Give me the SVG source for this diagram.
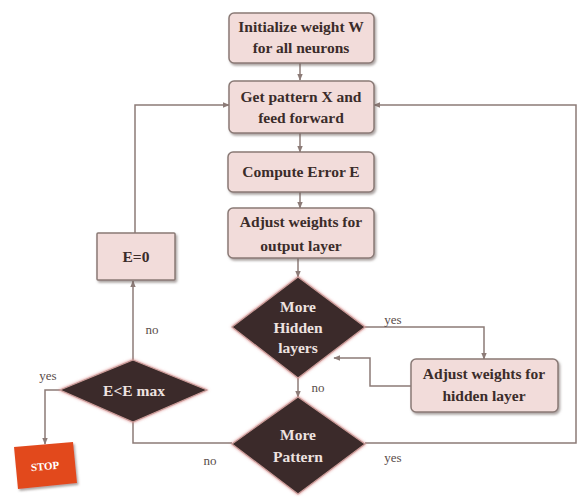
<svg xmlns="http://www.w3.org/2000/svg" width="577" height="497" viewBox="0 0 577 497">
<defs>
<marker id="arr" viewBox="0 0 10 10" refX="9" refY="5" markerWidth="7" markerHeight="7" orient="auto" markerUnits="userSpaceOnUse">
<path d="M0,1 L10,5 L0,9 z" fill="#8c7b77"/>
</marker>
<filter id="sh" x="-10%" y="-10%" width="125%" height="130%">
<feDropShadow dx="1.5" dy="2" stdDeviation="1.2" flood-color="#6b5d5a" flood-opacity="0.55"/>
</filter>
<filter id="glow" x="-10%" y="-10%" width="120%" height="120%">
<feDropShadow dx="0" dy="0" stdDeviation="1.5" flood-color="#d07070" flood-opacity="0.8"/>
</filter>
</defs>
<style>
.box{fill:#f2dcda;stroke:#8a7a76;stroke-width:1.5;filter:url(#sh)}
.dia{fill:#3a2b29;stroke:#c99a98;stroke-width:1.2;filter:url(#glow)}
.t{font-family:"Liberation Serif",serif;font-weight:bold;font-size:15.5px;fill:#3b2c2a;text-anchor:middle}
.td{font-family:"Liberation Serif",serif;font-weight:bold;font-size:15.5px;fill:#eee3e0;text-anchor:middle}
.lbl{font-family:"Liberation Serif",serif;font-size:13px;fill:#5a4d4a;text-anchor:middle}
.c{fill:none;stroke:#8c7b77;stroke-width:1.5}
</style>
<rect width="577" height="497" fill="#ffffff"/>
<g id="connectors">
<path class="c" d="M300,63 L300,80" marker-end="url(#arr)"/>
<path class="c" d="M300,133 L300,152" marker-end="url(#arr)"/>
<path class="c" d="M300,192 L300,208" marker-end="url(#arr)"/>
<path class="c" d="M298,258 L298,277" marker-end="url(#arr)"/>
<path class="c" d="M365,327 L484,327 L484,359" marker-end="url(#arr)"/>
<path class="c" d="M411,386 L370,386 L370,358 L334,358" marker-end="url(#arr)"/>
<path class="c" d="M298,378 L298,397" marker-end="url(#arr)"/>
<path class="c" d="M365,443 L576,443 L576,105 L374,105" marker-end="url(#arr)"/>
<path class="c" d="M232,443 L133,443 L133,422"/>
<path class="c" d="M133,360 L133,281" marker-end="url(#arr)"/>
<path class="c" d="M135,233 L135,105 L229,105" marker-end="url(#arr)"/>
<path class="c" d="M60,390 L45,390 L45,444" marker-end="url(#arr)"/>
<text class="lbl" x="393" y="324">yes</text>
<text class="lbl" x="318" y="392">no</text>
<text class="lbl" x="393" y="462">yes</text>
<text class="lbl" x="210" y="465">no</text>
<text class="lbl" x="152" y="334">no</text>
<text class="lbl" x="48" y="380">yes</text>
</g>
<g id="init">
<rect class="box" x="229" y="13" width="145" height="50" rx="5"/>
<text class="t" x="301" y="32">Initialize weight W</text>
<text class="t" x="301" y="53">for all neurons</text>
</g>
<g id="getpattern">
<rect class="box" x="229" y="81" width="145" height="52" rx="5"/>
<text class="t" x="301" y="102">Get pattern X and</text>
<text class="t" x="301" y="123">feed forward</text>
</g>
<g id="compute">
<rect class="box" x="228" y="152" width="146" height="40" rx="5"/>
<text class="t" x="301" y="177">Compute Error E</text>
</g>
<g id="adjustout">
<rect class="box" x="228" y="208" width="146" height="50" rx="5"/>
<text class="t" x="301" y="227">Adjust weights for</text>
<text class="t" x="301" y="251">output layer</text>
</g>
<g id="morehidden">
<polygon class="dia" points="298,277 365,327 298,378 232,327"/>
<text class="td" x="298" y="312">More</text>
<text class="td" x="298" y="333">Hidden</text>
<text class="td" x="298" y="353">layers</text>
</g>
<g id="adjusthidden">
<rect class="box" x="411" y="359" width="147" height="53" rx="5"/>
<text class="t" x="484" y="379">Adjust weights for</text>
<text class="t" x="484" y="401">hidden layer</text>
</g>
<g id="morepattern">
<polygon class="dia" points="298,397 365,444 298,494 232,444"/>
<text class="td" x="298" y="440">More</text>
<text class="td" x="298" y="462">Pattern</text>
</g>
<g id="e0">
<rect class="box" x="97" y="233" width="78" height="47" rx="1"/>
<text class="t" x="136" y="262">E=0</text>
</g>
<g id="emax">
<polygon class="dia" points="133,360 207,390 133,422 60,390"/>
<text class="td" x="134" y="396">E&lt;E max</text>
</g>
<g id="stop">
<polygon points="14,447 73,442 77,483 18,489" fill="#e24a1e" filter="url(#sh)"/>
<text x="45" y="470" font-family="Liberation Serif,serif" font-weight="bold" font-size="11" fill="#ffffff" text-anchor="middle" transform="rotate(-5 45 466)">STOP</text>
</g>
</svg>
